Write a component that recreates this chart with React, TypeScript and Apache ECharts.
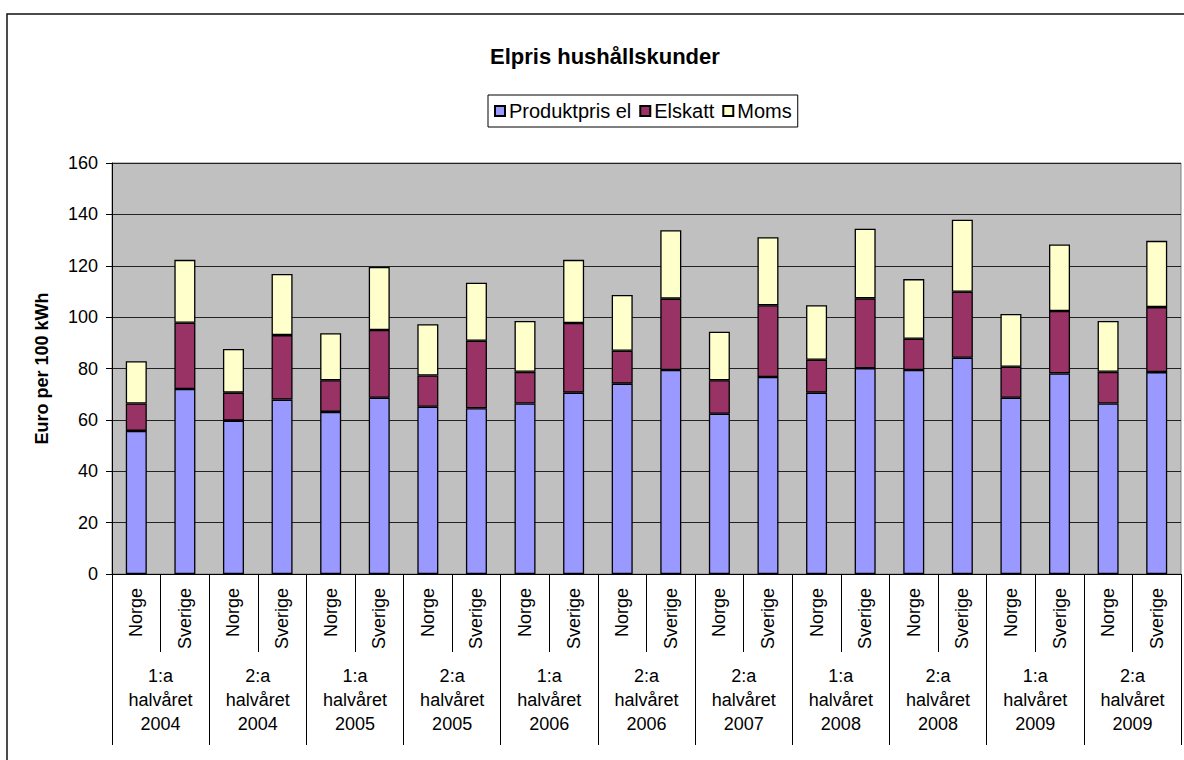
import React, { useEffect, useRef } from "react";
import * as echarts from "echarts";

const countries = [
  "Norge", "Sverige", "Norge", "Sverige", "Norge", "Sverige", "Norge", "Sverige",
  "Norge", "Sverige", "Norge", "Sverige", "Norge", "Sverige", "Norge", "Sverige",
  "Norge", "Sverige", "Norge", "Sverige", "Norge", "Sverige",
];
const periodHalf = ["1:a", "2:a", "1:a", "2:a", "1:a", "2:a", "2:a", "1:a", "2:a", "1:a", "2:a"];
const periodYear = ["2004", "2004", "2005", "2005", "2006", "2006", "2007", "2008", "2008", "2009", "2009"];

const produktpris = [55.7, 72.0, 59.7, 67.9, 63.1, 68.6, 65.1, 64.5, 66.4, 70.6, 74.1, 79.4, 62.4, 76.7, 70.6, 80.1, 79.4, 84.2, 68.6, 78.1, 66.4, 78.6];
const elskatt = [10.7, 25.8, 10.9, 25.1, 12.3, 26.4, 12.2, 26.3, 12.3, 27.1, 12.8, 27.8, 13.0, 27.9, 12.8, 27.2, 12.2, 25.7, 12.1, 24.3, 12.3, 25.3];
const moms = [16.4, 24.5, 17.0, 23.8, 18.3, 24.5, 19.9, 22.6, 19.8, 24.6, 21.7, 26.6, 18.9, 26.5, 21.2, 27.1, 23.2, 28.0, 20.5, 25.9, 19.8, 25.8];

const yTicks = { min: 0, max: 160, interval: 20 };

const FONT = "Arial, 'Liberation Sans', sans-serif";

export default function App() {
  const ref = useRef<HTMLDivElement>(null);
  useEffect(() => {
    if (!ref.current) return;
    const chart = echarts.init(ref.current, null, { renderer: "svg" });
    const periods = periodHalf.map((h, i) => `${h}\nhalvåret\n${periodYear[i]}`);
    const mk = (name: string, data: number[], color: string) => ({
      name,
      type: "bar",
      stack: "total",
      xAxisIndex: 0,
      data,
      barWidth: 21,
      itemStyle: { color, borderColor: "#000", borderWidth: 1.3 },
    });
    chart.setOption({
      animation: false,
      backgroundColor: "#fff",
      textStyle: { fontFamily: FONT },
      title: {
        text: "Elpris hushållskunder",
        left: 485,
        top: 40,
        textStyle: { fontSize: 22, fontWeight: "bold", color: "#000", fontFamily: FONT },
      },
      legend: {
        left: 488,
        top: 95,
        padding: [6, 6, 6, 6],
        borderColor: "#000",
        borderWidth: 1,
        itemWidth: 10,
        itemHeight: 10,
        itemGap: 8,
        icon: "rect",
        textStyle: { fontSize: 20, color: "#000", fontFamily: FONT, padding: [0, 0, 0, -1] },
        data: ["Produktpris el", "Elskatt", "Moms"],
      },
      grid: {
        left: 112,
        right: 3,
        top: 163,
        bottom: 186,
        show: true,
        backgroundColor: "#c0c0c0",
        borderColor: "#808080",
        borderWidth: 1,
      },
      xAxis: [
        {
          type: "category",
          data: countries,
          position: "bottom",
          axisLine: { show: true, lineStyle: { color: "#000", width: 1 } },
          axisTick: { show: true, length: 78, interval: 0, lineStyle: { color: "#000" } },
          axisLabel: {
            interval: 0,
            rotate: 90,
            margin: 14,
            fontSize: 18,
            color: "#000",
            fontFamily: FONT,
          },
          splitLine: { show: false },
        },
        {
          type: "category",
          data: periods,
          position: "bottom",
          offset: 0,
          axisLine: { show: false },
          axisTick: { show: true, length: 171, interval: 0, lineStyle: { color: "#000" } },
          axisLabel: {
            interval: 0,
            margin: 90,
            fontSize: 18,
            lineHeight: 24,
            color: "#000",
            fontFamily: FONT,
          },
          splitLine: { show: false },
        },
      ],
      yAxis: {
        type: "value",
        min: yTicks.min,
        max: yTicks.max,
        interval: yTicks.interval,
        name: "Euro per 100 kWh",
        nameLocation: "middle",
        nameGap: 61,
        nameTextStyle: { fontSize: 18, fontWeight: "bold", color: "#000", fontFamily: FONT },
        axisLine: { show: true, lineStyle: { color: "#000" } },
        axisTick: { show: true, length: 6, lineStyle: { color: "#000" } },
        axisLabel: { margin: 14, fontSize: 18, color: "#000", fontFamily: FONT },
        splitLine: { show: true, lineStyle: { color: "#222", width: 1 } },
      },
      graphic: [
        {
          type: "rect",
          silent: true,
          shape: { x: 7, y: 14, width: 1300, height: 900 },
          style: { fill: "none", stroke: "#111", lineWidth: 1.5 },
        },
      ],
      series: [
        mk("Produktpris el", produktpris, "#9999ff"),
        mk("Elskatt", elskatt, "#993366"),
        mk("Moms", moms, "#ffffcc"),
      ],
    });
    return () => chart.dispose();
  }, []);
  return (
    <div
      ref={ref}
      style={{ position: "fixed", left: 0, top: 0, width: 1184, height: 760 }}
    />
  );
}
